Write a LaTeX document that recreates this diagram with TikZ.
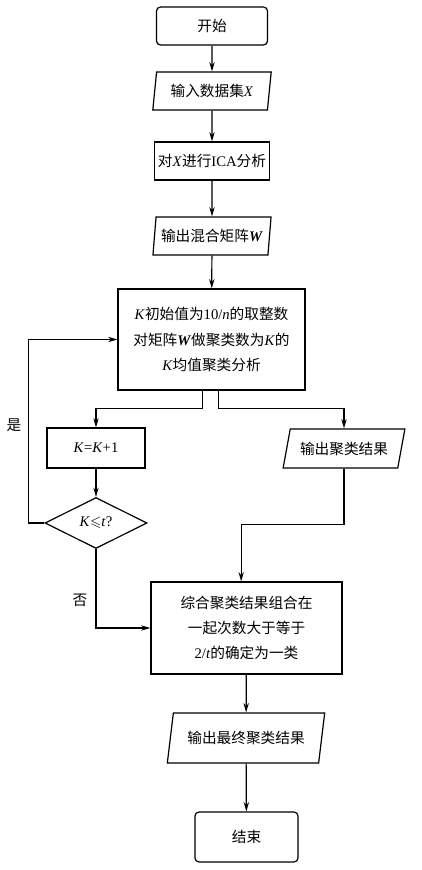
\documentclass[tikz,border=0pt]{standalone}
\usepackage{amssymb}
\usepackage{fontspec}
\setmainfont{Liberation Serif}
\newfontfamily\cjk{Noto Sans CJK SC}
\usetikzlibrary{shapes.geometric, arrows.meta}
\newcommand{\zh}[1]{{\cjk #1}}
\newcommand{\chartfont}{\fontsize{11}{19}\selectfont}
\tikzset{
    startstop/.style={draw, rectangle, rounded corners=3pt, inner sep=2pt, align=center, line width=0.9pt, font=\chartfont},
    process/.style={draw, rectangle, inner sep=2pt, align=center, line width=0.9pt, font=\chartfont},
    io/.style={draw, trapezium, trapezium left angle=78, trapezium right angle=102, trapezium stretches=true, inner sep=2pt, align=center, line width=0.9pt, font=\chartfont},
    decision/.style={draw, diamond, inner sep=1pt, align=center, line width=0.9pt, font=\chartfont},
    label/.style={font=\chartfont},
    arrow/.style={->, line width=0.9pt}
}

\begin{document}
\begin{tikzpicture}[x=0.75pt, y=-0.75pt, >={Stealth[length=7pt,width=4pt]}, line width=0.9pt]
    \useasboundingbox (0,0) rectangle (421,870);

    % -----------------------------------------------------------------
    % COLONNA PRINCIPALE
    % -----------------------------------------------------------------
    \node[startstop, minimum width=83.25pt, minimum height=28.5pt] (start) at (212,26) {\zh{开始}};
    \node[io, minimum width=89.25pt, minimum height=28.5pt, trapezium left angle=81, trapezium right angle=99] (input) at (212,91) {\zh{输入数据集}\textit{X}};
    \node[process, minimum width=86.25pt, minimum height=28.5pt] (ica) at (212,161) {\zh{对}\textit{X}\zh{进行}ICA\zh{分析}};
    \node[io, minimum width=89.25pt, minimum height=28.5pt, trapezium left angle=81, trapezium right angle=99] (outW) at (212,236) {\zh{输出混合矩阵}\textbf{\textit{W}}};
    \node[process, minimum width=140.25pt, minimum height=75.75pt] (kmeans) at (211.5,339.5)
        {\textit{K}\zh{初始值为}10/\textit{n}\zh{的取整数}\\
         \zh{对矩阵}\textbf{\textit{W}}\zh{做聚类数为}\textit{K}\zh{的}\\
         \textit{K}\zh{均值聚类分析}};

    % -----------------------------------------------------------------
    % RAMI
    % -----------------------------------------------------------------
    \node[process, minimum width=73.5pt, minimum height=30pt] (incK) at (96,448) {\textit{K}=\textit{K}+1};
    \node[decision, minimum width=76.5pt, minimum height=38.25pt] (cond) at (96,523) {\textit{K}$\leqslant$\textit{t}?};
    \node[io, minimum width=91.5pt, minimum height=29.25pt, trapezium left angle=72, trapezium right angle=108] (outC) at (344,448.5) {\zh{输出聚类结果}};

    \node[process, minimum width=143.25pt, minimum height=69pt, font=\fontsize{11}{18.5}\selectfont] (merge) at (246.5,628)
        {\zh{综合聚类结果组合在}\\
         \zh{一起次数大于等于}\\
         2/\textit{t}\zh{的确定为一类}};
    \node[io, minimum width=118.5pt, minimum height=37.5pt, trapezium left angle=75, trapezium right angle=105] (outF) at (246,738) {\zh{输出最终聚类结果}};
    \node[startstop, minimum width=77.25pt, minimum height=37.5pt] (stop) at (246.5,837) {\zh{结束}};

    \node[label] (yes) at (14,425) {\zh{是}};
    \node[label] (no) at (80,600) {\zh{否}};

    % -----------------------------------------------------------------
    % FRECCE
    % -----------------------------------------------------------------
    \draw[arrow] (start) -- (input);
    \draw[arrow] (input) -- (ica);
    \draw[arrow] (ica) -- (outW);
    \draw[arrow] (outW) -- (kmeans);

    \draw[arrow] ([xshift=-7pt]kmeans.south) -- ++(0,18) -| (incK.north);
    \draw[arrow] ([xshift=5pt]kmeans.south) -- ++(0,18) -| (outC.north);
    \draw[arrow] (incK) -- (cond);
    \draw[arrow] (cond.west) -- ++(-16,0) |- (kmeans.west);
    \draw[arrow] (cond.south) |- (merge.west);
    \draw[arrow] (outC.south) -- ++(0,56) -| ([xshift=-4pt]merge.north);
    \draw[arrow] (merge) -- (outF);
    \draw[arrow] (outF) -- (stop);

\end{tikzpicture}
\end{document}
